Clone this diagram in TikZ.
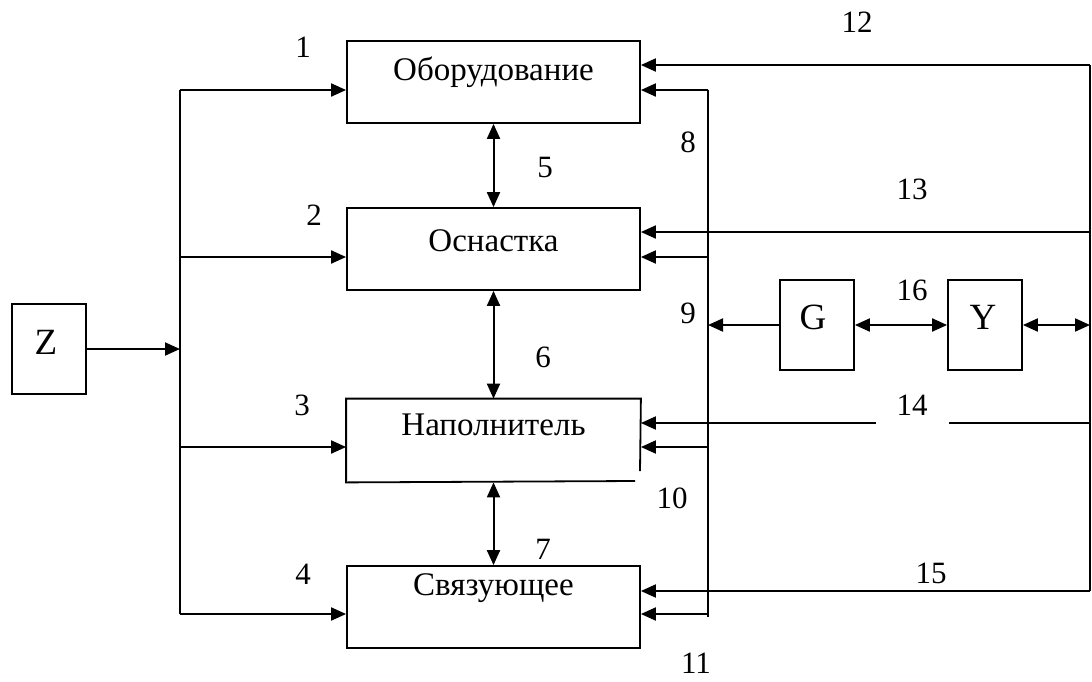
\documentclass[tikz,border=0pt]{standalone}
\usepackage{fontspec}
\setmainfont{Liberation Serif}
\usetikzlibrary{arrows.meta}
\tikzset{
  blk/.style={draw, line width=1.8pt, inner sep=0pt, minimum width=293pt, minimum height=82pt},
  sblk/.style={draw, line width=1.8pt, inner sep=0pt, minimum width=74pt, minimum height=90pt},
  txt/.style={font=\fontsize{33}{38}\selectfont, inner sep=0pt},
  btxt/.style={font=\fontsize{37}{42}\selectfont, inner sep=0pt},
  num/.style={font=\fontsize{31}{36}\selectfont, inner sep=0pt},
  ln/.style={line width=2pt},
  arr/.style={line width=2pt, -{Triangle[length=15pt,width=13pt]}},
  barr/.style={line width=2pt, {Triangle[length=15pt,width=13pt]}-{Triangle[length=15pt,width=13pt]}}
}
\begin{document}
\begin{tikzpicture}[x=1pt,y=-1pt]
\useasboundingbox[fill=white] (0,0) rectangle (1092,681);
% main blocks
\node[blk] (b1) at (493.5,82) {};
\node[blk] (b2) at (493.5,249) {};
\node[blk, draw=none] (b3) at (493.5,440.5) {};
\draw[line width=1.8pt] (635,481) -- (b3.south west) -- (b3.north west) -- (b3.north east) -- (640,471);
\node[blk] (b4) at (493.5,607) {};
\node[txt] (t1) at (493.5,72) {Оборудование};
\node[txt] (t2) at (493.5,241) {Оснастка};
\node[txt] (t3) at (493.5,425) {Наполнитель};
\node[txt] (t4) at (493.5,588) {Связующее};
% Z, G, Y
\node[sblk] (Z) at (49,349) {};
\node[btxt] (tz) at (46,342) {Z};
\node[sblk] (G) at (817,325) {};
\node[btxt] (tg) at (813,317) {G};
\node[sblk] (Y) at (985,325) {};
\node[btxt] (ty) at (983,317) {Y};
% coordinates
\coordinate (busT) at (180,90);
\coordinate (busB) at (180,614);
\coordinate (zin) at (180,349);
\coordinate (vT) at (708,90);
\coordinate (vB) at (708,617);
\coordinate (v9) at (708,325);
\coordinate (rT) at (1090,65);
\coordinate (rB) at (1090,591);
\coordinate (rY) at (1090,325);
\coordinate (g14a) at (949,423);
\coordinate (g14b) at (876,423);
% left bus
\draw[ln] (busT) -- (busB);
\draw[arr] (Z.east) -- (zin);
\draw[arr] (busT) -- (busT -| b1.west);
\draw[arr] (180,257) -- (180,257 -| b2.west);
\draw[arr] (180,447) -- (180,447 -| b3.west);
\draw[arr] (busB) -- (busB -| b4.west);
% vertical links between blocks
\draw[barr] (b1.south) -- (b2.north);
\draw[barr] (b2.south) -- (b3.north);
\draw[barr] (b3.south) -- (b4.north);
% inner feedback line
\draw[ln] (vT) -- (vB);
\draw[arr] (vT) -- (vT -| b1.east);
\draw[arr] (708,257) -- (708,257 -| b2.east);
\draw[arr] (708,447) -- (708,447 -| b2.east);
\draw[arr] (708,614) -- (708,614 -| b4.east);
\draw[arr] (G.west) -- (v9);
\draw[barr] (G.east) -- (Y.west);
\draw[barr] (Y.east) -- (rY);
% outer rail
\draw[line width=1.2pt] (rT) -- (rB);
\draw[arr] (rT) -- (rT -| b1.east);
\draw[arr] (1090,232) -- (1090,232 -| b2.east);
\draw[ln] (1090,423) -- (g14a);
\draw[arr] (g14b) -- (g14b -| b2.east);
\draw[arr] (rB) -- (rB -| b4.east);
% numbers
\node[num] (n1) at (303,47) {1};
\node[num] (n2) at (314,215) {2};
\node[num] (n3) at (302,405) {3};
\node[num] (n4) at (303,574) {4};
\node[num] (n5) at (545,167) {5};
\node[num] (n6) at (543,357) {6};
\node[num] (n7) at (543,549) {7};
\node[num] (n8) at (688,142) {8};
\node[num] (n9) at (688,313) {9};
\node[num] (n10) at (672,498) {10};
\node[num] (n11) at (696,663) {11};
\node[num] (n12) at (857,22) {12};
\node[num] (n13) at (912,189) {13};
\node[num] (n14) at (912,405) {14};
\node[num] (n15) at (931,573) {15};
\node[num] (n16) at (912,290) {16};
\end{tikzpicture}
\end{document}
